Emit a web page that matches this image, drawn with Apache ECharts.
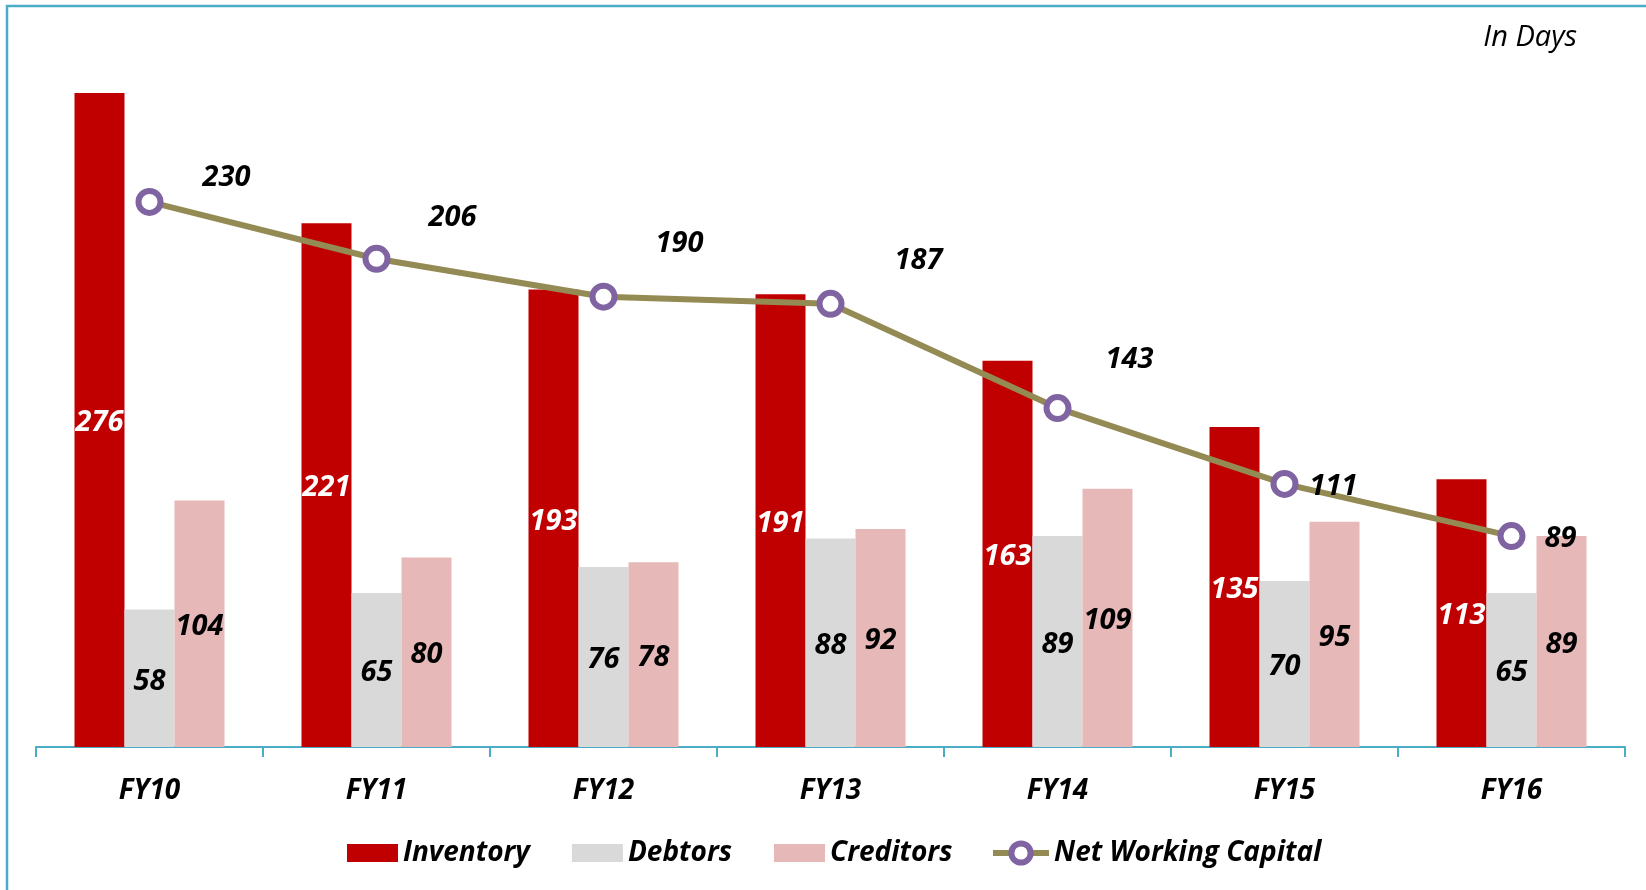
<!DOCTYPE html>
<html>
<head>
<meta charset="utf-8">
<title>Working Capital Cycle</title>
<script src="https://cdn.jsdelivr.net/npm/echarts@6/dist/echarts.min.js"></script>
<style>
  html, body { margin: 0; padding: 0; background: #ffffff; }
  #chart { width: 1646px; height: 890px; }
</style>
</head>
<body>
<div id="chart"></div>
<script>
// Working capital components, in days
const years = ['FY10', 'FY11', 'FY12', 'FY13', 'FY14', 'FY15', 'FY16'];
const inventory = [276, 221, 193, 191, 163, 135, 113];
const debtors = [58, 65, 76, 88, 89, 70, 65];
const creditors = [104, 80, 78, 92, 109, 95, 89];
const netWorkingCapital = [230, 206, 190, 187, 143, 111, 89];

// Offsets (px) of each net working capital label from its point
const nwcLabelShift = [[77, -24], [76, -41], [76, -53], [88, -43], [72, -48], [49, 3], [49, 3]];

const FONT = '"Open Sans", "Liberation Sans", sans-serif';
const labelFont = { fontFamily: FONT, fontSize: 29, fontWeight: 'bold', fontStyle: 'italic' };
const legendText = { fontFamily: FONT, fontSize: 28, fontWeight: 'bold', fontStyle: 'italic', color: '#000000' };

const chart = echarts.init(document.getElementById('chart'), null, { renderer: 'canvas' });

function barSeries(name, values, color, labelColor) {
  return {
    name: name,
    type: 'bar',
    data: values,
    barWidth: 50,
    barGap: '0%',
    itemStyle: { color: color },
    label: Object.assign({ show: true, position: 'inside', offset: [0, 3], color: labelColor }, labelFont),
    emphasis: { disabled: true }
  };
}

const option = {
  animation: false,
  backgroundColor: '#ffffff',
  grid: { left: 36, right: 21, top: 36, bottom: 143, containLabel: false },
  legend: [
    {
      left: 342,
      top: 834,
      itemWidth: 51,
      itemHeight: 18,
      itemGap: 42,
      textStyle: legendText,
      data: [
        { name: 'Inventory', icon: 'rect' },
        { name: 'Debtors', icon: 'rect' },
        { name: 'Creditors', icon: 'rect' }
      ]
    },
    {
      left: 985,
      top: 834,
      itemWidth: 56,
      itemHeight: 24,
      textStyle: legendText,
      data: [
        {
          name: 'Net Working Capital',
          lineStyle: { width: 6, color: '#948a54' },
          itemStyle: { color: '#ffffff', borderColor: '#8064a2', borderWidth: 6 }
        }
      ]
    }
  ],
  xAxis: {
    type: 'category',
    data: years,
    boundaryGap: true,
    axisLine: { show: true, lineStyle: { color: '#4bacc6', width: 2 } },
    axisTick: { show: true, alignWithLabel: false, length: 10, lineStyle: { color: '#4bacc6', width: 2 } },
    axisLabel: Object.assign({ color: '#000000', margin: 30 }, labelFont, { fontSize: 28 })
  },
  yAxis: {
    type: 'value',
    min: 0,
    max: 300,
    show: false,
    splitLine: { show: false }
  },
  graphic: [
    {
      type: 'rect',
      shape: { x: 7, y: 6, width: 1660, height: 900 },
      style: { fill: 'none', stroke: '#4bacc6', lineWidth: 2.5 },
      silent: true,
      z: 100
    },
    {
      type: 'text',
      x: 1577,
      y: 38,
      style: {
        text: 'In Days',
        align: 'right',
        verticalAlign: 'middle',
        fontFamily: FONT,
        fontSize: 29,
        fontStyle: 'italic',
        fill: '#000000'
      },
      silent: true
    }
  ],
  series: [
    barSeries('Inventory', inventory, '#c00000', '#ffffff'),
    barSeries('Debtors', debtors, '#d9d9d9', '#000000'),
    barSeries('Creditors', creditors, '#e6b9b8', '#000000'),
    {
      name: 'Net Working Capital',
      type: 'line',
      z: 5,
      data: netWorkingCapital.map(function (v, i) {
        return {
          value: v,
          label: { offset: nwcLabelShift[i] }
        };
      }),
      symbol: 'circle',
      symbolSize: 22,
      showAllSymbol: true,
      lineStyle: { color: '#948a54', width: 6 },
      itemStyle: { color: '#ffffff', borderColor: '#8064a2', borderWidth: 6 },
      label: Object.assign({ show: true, position: 'inside', color: '#000000' }, labelFont),
      emphasis: { disabled: true }
    }
  ]
};

chart.setOption(option);
</script>
</body>
</html>
